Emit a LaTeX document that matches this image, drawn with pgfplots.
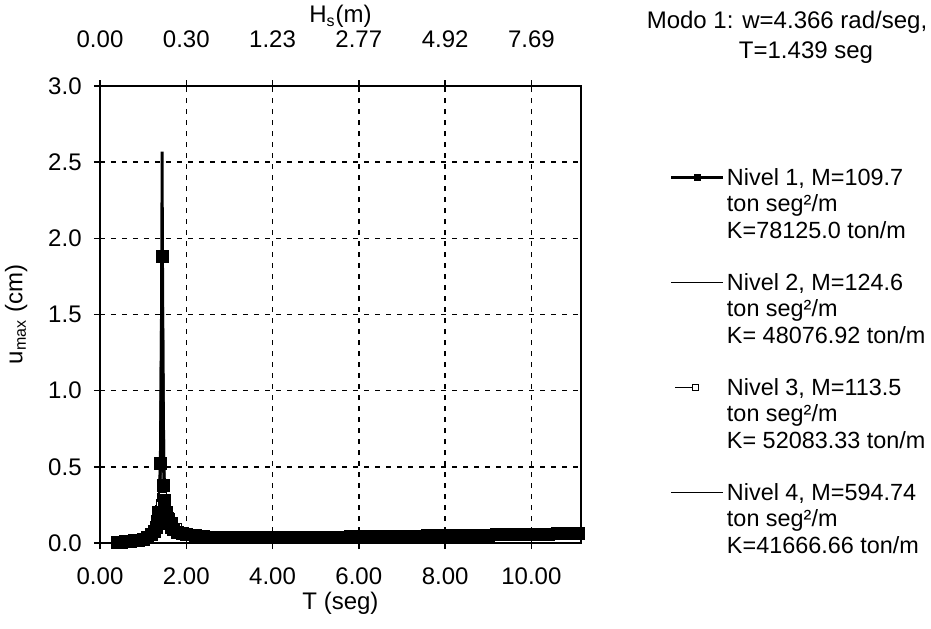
\documentclass[border=0pt]{standalone}
\usepackage{fontspec}
\setmainfont{Liberation Sans}
\usepackage{pgfplots}
\pgfplotsset{compat=1.18}
\usepackage{pgfplotstable}
\pgfplotsset{
  longleg/.style={legend image code/.code={\draw[mark repeat=2,mark phase=2,##1] plot coordinates {(0pt,0pt) (13pt,0pt) (26pt,0pt)};}},
  shortleg/.style={legend image code/.code={\draw[mark repeat=2,mark phase=2,##1] plot coordinates {(2pt,0pt) (12pt,0pt)};}},
}

\pgfplotstableread{
T s1 s2 s3 s4
0.40 0.004 0.003 0.004 0.003
0.50 0.006 0.005 0.006 0.004
0.60 0.008 0.007 0.009 0.006
0.70 0.011 0.009 0.012 0.008
0.80 0.014 0.012 0.016 0.011
0.90 0.019 0.016 0.022 0.015
1.00 0.026 0.022 0.032 0.020
1.10 0.037 0.032 0.048 0.029
1.20 0.058 0.050 0.075 0.046
1.25 0.075 0.068 0.090 0.062
1.30 0.105 0.095 0.120 0.088
1.33 0.140 0.130 0.150 0.120
1.36 0.200 0.190 0.190 0.170
1.38 nan 0.280 0.220 0.240
1.40 0.520 0.480 0.260 0.400
1.42 nan 1.250 0.300 0.800
1.44 1.880 2.570 0.330 1.450
1.46 nan 1.200 0.310 0.780
1.48 0.380 0.560 0.280 0.450
1.50 0.280 0.330 0.260 0.300
1.53 0.200 0.220 0.235 0.240
1.56 0.160 0.170 0.215 0.200
1.60 0.128 0.132 0.200 0.170
1.65 0.104 0.106 0.170 0.140
1.70 0.090 0.090 0.145 0.120
1.80 0.072 0.072 0.105 0.090
1.90 0.062 0.061 0.080 0.072
2.00 0.055 0.054 0.066 0.062
2.2 0.047 0.045 0.052 0.048
2.4 0.042 0.039 0.047 0.036
2.6 0.039 0.035 0.045 0.032
2.8 0.037 0.033 0.043 0.029
3.0 0.036 0.032 0.042 0.028
3.2 0.035 0.031 0.041 0.027
3.4 0.035 0.031 0.041 0.027
3.6 0.034 0.030 0.040 0.026
3.8 0.035 0.031 0.041 0.027
4.0 0.035 0.031 0.041 0.027
4.2 0.036 0.032 0.042 0.028
4.4 0.036 0.032 0.042 0.028
4.6 0.037 0.033 0.043 0.029
4.8 0.037 0.033 0.043 0.029
5.0 0.038 0.034 0.044 0.030
5.2 0.039 0.035 0.045 0.031
5.4 0.039 0.035 0.045 0.031
5.6 0.040 0.036 0.046 0.032
5.8 0.041 0.037 0.047 0.033
6.0 0.041 0.037 0.047 0.033
6.2 0.042 0.038 0.048 0.034
6.4 0.043 0.039 0.049 0.035
6.6 0.043 0.039 0.049 0.035
6.8 0.044 0.040 0.050 0.036
7.0 0.045 0.041 0.051 0.037
7.2 0.046 0.042 0.052 0.038
7.4 0.046 0.042 0.052 0.038
7.6 0.047 0.043 0.053 0.039
7.8 0.048 0.044 0.054 0.040
8.0 0.049 0.045 0.055 0.041
8.2 0.050 0.046 0.056 0.042
8.4 0.050 0.046 0.056 0.042
8.6 0.051 0.047 0.057 0.043
8.8 0.052 0.048 0.058 0.044
9.0 0.053 0.049 0.059 0.045
9.2 0.054 0.050 0.060 0.046
9.4 0.055 0.051 0.061 0.047
9.6 0.056 0.052 0.062 0.048
9.8 0.057 0.053 0.063 0.049
10.0 0.058 0.054 0.064 0.050
10.2 0.058 0.054 0.064 0.050
10.4 0.059 0.055 0.065 0.051
10.6 0.060 0.056 0.066 0.052
10.8 0.061 0.057 0.067 0.053
11.0 0.062 0.058 0.068 0.054
11.1 0.062 0.058 0.068 0.054
}\datatable

\begin{document}
\fontsize{12}{14}\selectfont
\begin{tikzpicture}
\begin{axis}[
  name=main, at={(0pt,0pt)}, anchor=south west,
  width=240.5pt, height=228.5pt, scale only axis,
  xmin=0, xmax=11.15, ymin=0, ymax=3,
  clip=false,
  xtick={0,2,4,6,8,10}, xticklabels={0.00,2.00,4.00,6.00,8.00,10.00},
  ytick={0,0.5,1,1.5,2,2.5,3}, yticklabels={0.0,0.5,1.0,1.5,2.0,2.5,3.0},
  xtick pos=bottom, ytick pos=left,
  grid=major, major grid style={black, line width=0.7pt, dash pattern=on 2.5pt off 3pt},
  tick align=outside, major tick length=3pt, tick style={black, line width=0.7pt},
  axis line style={black, line width=0.9pt},
  xticklabel style={yshift=-5pt},
  yticklabel style={xshift=-2pt},
  xlabel={T (seg)}, ylabel={u\textsubscript{max} (cm)},
  xlabel style={at={(axis description cs:0.5,-0.131)}, anchor=center},
  ylabel style={at={(axis description cs:-0.1745,0.5)}, anchor=center},
  legend cell align=left,
  longleg,
  legend image post style={yshift=4pt},
  legend style={draw=none, fill=none, inner sep=0pt, outer sep=0pt,
    at={(axis description cs:1.185,0.8234)}, anchor=north west,
    row sep=0pt, column sep=1pt, font=\fontsize{11.7}{14}\selectfont,
    nodes={inner sep=0pt, text height=9.4pt, text depth=3.725pt},
    cells={anchor=base west}},
]
% data series (legend built separately below)
\addplot[forget plot, black, line width=0.6pt, mark=square*, mark size=1.8pt, mark options={fill=white, line width=0.6pt}] table[x=T, y=s3] {\datatable};
\addplot[forget plot, black, line width=1.5pt, mark=square*, mark size=3pt, mark options={solid, line width=0.4pt}] table[x=T, y=s1] {\datatable};
\addplot[forget plot, black, line width=1.4pt] table[x=T, y=s2] {\datatable};
\addplot[forget plot, black, line width=0.8pt] table[x=T, y=s4] {\datatable};
% legend
\addlegendimage{black, line width=1.5pt, mark=square*, mark size=1.6pt, mark options={solid, line width=0.4pt}}
\addlegendentry{Nivel 1, M=109.7}
\addlegendimage{empty legend}\addlegendentry{ton seg²/m}
\addlegendimage{empty legend}\addlegendentry{K=78125.0 ton/m}
\addlegendimage{empty legend}\addlegendentry{}
\addlegendimage{black, line width=0.8pt}
\addlegendentry{Nivel 2, M=124.6}
\addlegendimage{empty legend}\addlegendentry{ton seg²/m}
\addlegendimage{empty legend}\addlegendentry{K= 48076.92 ton/m}
\addlegendimage{empty legend}\addlegendentry{}
\addlegendimage{black, line width=0.6pt, mark=square*, mark size=1.6pt, mark options={fill=white, line width=0.6pt}, shortleg}
\addlegendentry{Nivel 3, M=113.5}
\addlegendimage{empty legend}\addlegendentry{ton seg²/m}
\addlegendimage{empty legend}\addlegendentry{K= 52083.33 ton/m}
\addlegendimage{empty legend}\addlegendentry{}
\addlegendimage{black, line width=0.8pt}
\addlegendentry{Nivel 4, M=594.74}
\addlegendimage{empty legend}\addlegendentry{ton seg²/m}
\addlegendimage{empty legend}\addlegendentry{K=41666.66 ton/m}
\end{axis}
\begin{axis}[
  at={(0pt,0pt)}, anchor=south west,
  width=240.5pt, height=228.5pt, scale only axis,
  xmin=0, xmax=11.15, ymin=0, ymax=3,
  axis x line*=top, axis y line=none,
  xtick={0,2,4,6,8,10}, xticklabels={0.00,0.30,1.23,2.77,4.92,7.69},
  tick align=outside, major tick length=3pt, tick style={black, line width=0.7pt},
  axis line style={black, line width=0.9pt},
  xticklabel style={yshift=12pt},
  xlabel={H\textsubscript{s}(m)},
  xlabel style={at={(axis description cs:0.5,1.152)}, anchor=center},
]
\end{axis}
\node[anchor=base] at ([shift={(343.5pt,257.25pt)}]main.south west) {Modo 1: w=4.366 rad/seg,};
\node[anchor=base] at ([shift={(353pt,242.25pt)}]main.south west) {T=1.439 seg};
\pgfresetboundingbox
\path[use as bounding box] ([shift={(-50pt,-42.5pt)}]main.south west) rectangle ([shift={(415.5pt,271.5pt)}]main.south west);
\end{tikzpicture}
\end{document}
